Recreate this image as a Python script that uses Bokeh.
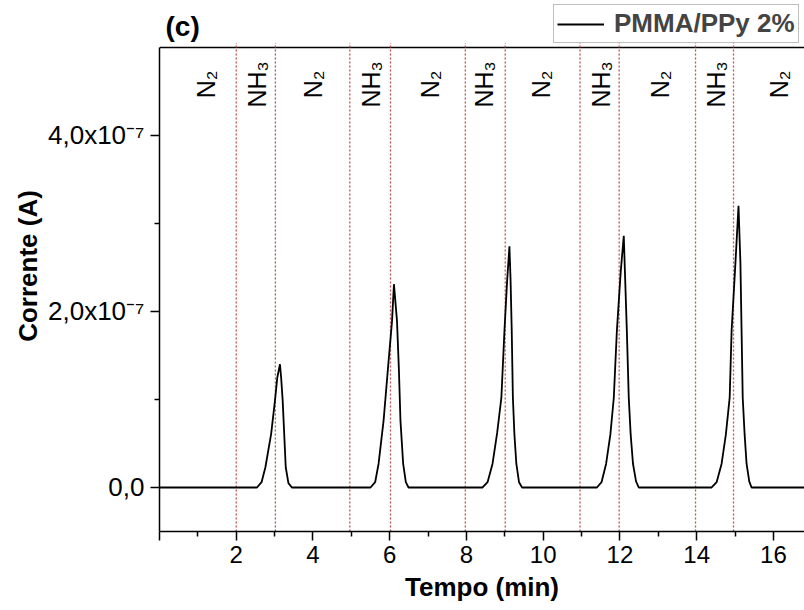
import math
from bokeh.plotting import figure
from bokeh.models import (FixedTicker, LinearAxis, Label, Legend, LegendItem, Range1d)
from bokeh.embed import file_html
from bokeh.resources import INLINE
from bokeh.core.properties import value

FONT = "Liberation Sans"

# ---- data ----
# time in minutes, current in units of 1e-7 A
time_min = [0.0,
            2.54, 2.66, 2.76, 2.91, 3.01, 3.07, 3.14, 3.17, 3.21, 3.25, 3.29, 3.36, 3.45,
            5.50, 5.62, 5.71, 5.84, 5.95, 6.06, 6.11, 6.15, 6.19, 6.24, 6.28, 6.35, 6.42, 6.49,
            8.42, 8.55, 8.68, 8.80, 8.91, 8.99, 9.06, 9.12, 9.15, 9.18, 9.21, 9.25, 9.30, 9.37, 9.45,
            11.40, 11.52, 11.64, 11.75, 11.84, 11.92, 12.02, 12.10, 12.13, 12.18, 12.23, 12.28, 12.34, 12.42, 12.49,
            14.39, 14.52, 14.65, 14.76, 14.86, 14.91, 15.01, 15.09, 15.14, 15.17, 15.20, 15.25, 15.30, 15.37, 15.43,
            17.0]
current_e7 = [0.0,
              0.0, 0.06, 0.23, 0.61, 0.99, 1.25, 1.40, 1.25, 0.99, 0.61, 0.23, 0.05, 0.0,
              0.0, 0.06, 0.27, 0.76, 1.33, 1.89, 2.31, 2.10, 1.89, 1.33, 0.76, 0.27, 0.06, 0.0,
              0.0, 0.06, 0.27, 0.62, 1.02, 1.78, 2.35, 2.74, 2.35, 1.78, 1.02, 0.60, 0.27, 0.06, 0.0,
              0.0, 0.06, 0.27, 0.60, 1.02, 1.78, 2.45, 2.86, 2.45, 1.78, 1.02, 0.60, 0.27, 0.07, 0.0,
              0.0, 0.06, 0.27, 0.60, 1.02, 1.78, 2.55, 3.20, 2.55, 1.78, 1.02, 0.60, 0.27, 0.07, 0.0,
              0.0]

gas_switch_times = [2.0, 3.02, 4.96, 6.02, 7.97, 9.01, 10.96, 11.98, 13.97, 14.96]
gas_labels = ["N₂", "NH₃", "N₂", "NH₃", "N₂", "NH₃", "N₂", "NH₃", "N₂", "NH₃", "N₂"]
gas_label_times = [1.2, 2.55, 4.0, 5.5, 7.05, 8.45, 9.95, 11.5, 13.05, 14.5, 16.15]

x_tick_values = [0, 2, 4, 6, 8, 10, 12, 14, 16]
x_tick_labels = ["", "2", "4", "6", "8", "10", "12", "14", "16"]
x_minor_ticks = [1, 3, 5, 7, 9, 11, 13, 15]
y_tick_values = [0, 2, 4]
y_tick_labels = ["0,0", "2,0x10⁻⁷", "4,0x10⁻⁷"]
y_minor_ticks = [1, 3]

series_name = "PMMA/PPy 2%"
x_title = "Tempo (min)"
y_title = "Corrente (A)"
panel_tag = "(c)"

# ---- figure ----
X0, X1 = 0.0, 16.81
Y0, Y_TOP_AXIS, Y1 = -0.5, 5.0, 5.533
p = figure(width=804, height=610, output_backend="svg", toolbar_location=None,
           x_range=Range1d(X0, X1), y_range=Range1d(Y0, Y1),
           min_border_left=159, min_border_right=0, min_border_top=0, min_border_bottom=79)
p.outline_line_color = None
p.grid.visible = False
p.background_fill_color = "white"
p.border_fill_color = "white"

for ax in (p.xaxis[0], p.yaxis[0]):
    ax.axis_line_width = 1.5
    ax.axis_line_color = "black"
    ax.major_tick_line_width = 1.5
    ax.minor_tick_line_width = 1.5
    ax.major_tick_in = 0
    ax.major_tick_out = 9
    ax.minor_tick_in = 0
    ax.minor_tick_out = 5
    ax.major_label_text_font = FONT
    ax.major_label_text_color = "black"

p.xaxis[0].ticker = FixedTicker(ticks=x_tick_values, minor_ticks=x_minor_ticks)
p.xaxis[0].major_label_overrides = dict(zip(x_tick_values, x_tick_labels))
p.xaxis[0].major_label_standoff = 5
p.xaxis[0].major_label_text_font_size = "24px"
p.yaxis[0].ticker = FixedTicker(ticks=y_tick_values, minor_ticks=y_minor_ticks)
p.yaxis[0].major_label_overrides = dict(zip(y_tick_values, y_tick_labels))
p.yaxis[0].major_label_standoff = 6
p.yaxis[0].major_label_text_font_size = "26px"
p.yaxis[0].bounds = (Y0, Y_TOP_AXIS)

# extra label-only axes carrying the axis titles
x_title_axis = LinearAxis(ticker=FixedTicker(ticks=[]), bounds=(0.3, X1),
                          axis_line_color=None, major_tick_line_color=None,
                          minor_tick_line_color=None, major_tick_out=0, minor_tick_out=0,
                          major_label_standoff=0, major_label_text_font_size="0px",
                          axis_label=x_title, axis_label_standoff=6,
                          axis_label_text_font=FONT, axis_label_text_font_size="26px",
                          axis_label_text_font_style="bold", axis_label_text_color="black")
p.add_layout(x_title_axis, "below")
y_title_axis = LinearAxis(ticker=FixedTicker(ticks=[]), bounds=(0.25, Y_TOP_AXIS),
                          axis_line_color=None, major_tick_line_color=None,
                          minor_tick_line_color=None, major_tick_out=0, minor_tick_out=0,
                          major_label_standoff=0, major_label_text_font_size="0px",
                          axis_label=y_title, axis_label_standoff=3,
                          axis_label_text_font=FONT, axis_label_text_font_size="26px",
                          axis_label_text_font_style="bold", axis_label_text_color="black")
p.add_layout(y_title_axis, "left")

# top frame line
p.segment(x0=[X0], y0=[Y_TOP_AXIS], x1=[X1], y1=[Y_TOP_AXIS], line_color="black", line_width=1.5)

# gas switching lines
n = len(gas_switch_times)
p.segment(x0=gas_switch_times, y0=[Y0] * n, x1=gas_switch_times, y1=[5.05] * n,
          line_color="#c0504d", line_dash="2 2", line_width=1.3)

# gas labels
p.text(x=gas_label_times, y=[4.58] * len(gas_label_times), text=gas_labels,
       angle=math.pi / 2, text_align="center", text_baseline="middle",
       text_font=value(FONT), text_font_size="25px", text_color="black")

# signal
r = p.line(time_min, current_e7, line_color="black", line_width=1.8)

legend = Legend(items=[LegendItem(label=series_name, renderers=[r])],
                location=(394, 488), orientation="vertical",
                label_text_font=FONT, label_text_font_size="26px",
                label_text_font_style="bold", label_standoff=10,
                glyph_width=47, glyph_height=20, label_height=20,
                padding=3, spacing=0, margin=0,
                border_line_color="#808080", border_line_width=1,
                background_fill_color="white", background_fill_alpha=1.0)
p.add_layout(legend, "center")

p.add_layout(Label(x=0.156, y=5.234, text=panel_tag, text_align="left",
                   text_baseline="alphabetic", text_font=FONT, text_font_size="28px",
                   text_font_style="bold", text_color="black"))

open("out.html", "w").write(file_html(p, INLINE))
